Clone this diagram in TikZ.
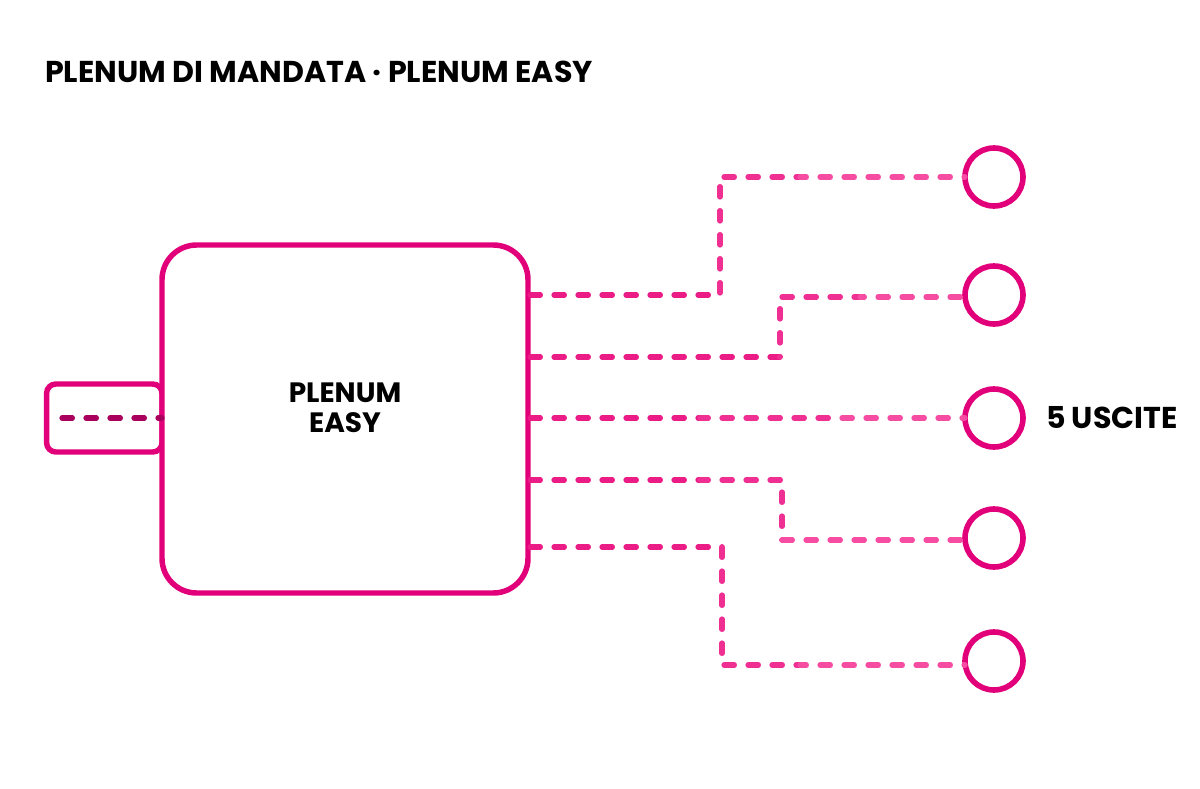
\documentclass[tikz,border=0pt]{standalone}
\usepackage{fontspec}
\setmainfont{Poppins}[BoldFont={Poppins Bold}]
\begin{document}
\begin{tikzpicture}[x=0.75pt,y=-0.75pt,
  every node/.style={inner sep=0pt,outer sep=0pt},
  frame/.style={draw=mag,line width=4.1pt,rounded corners=26pt},
  port/.style={draw=mag,line width=4.1pt,rounded corners=7pt},
  outlet/.style={draw=mag,line width=4.2pt,circle,minimum size=43.5pt},
  duct/.style={line width=3.9pt,line cap=round,dash pattern=on 7.8pt off 10.2pt},
  lbl/.style={font=\bfseries\fontsize{22.6}{26}\selectfont,text=black}]
\definecolor{mag}{HTML}{E2007A}
\definecolor{dkmag}{HTML}{A8005C}
\definecolor{dl}{HTML}{EC1C86}
\definecolor{dm}{HTML}{F02F93}
\definecolor{dr}{HTML}{F64DA3}
\useasboundingbox (0,0) rectangle (1200,789);
\node[lbl,anchor=base west] (title) at (45,82) {PLENUM DI MANDATA · PLENUM EASY};
% small port box
\node[port,minimum width=86.6pt,minimum height=51pt] (port) at (104.3,418) {};
% main box
\node[frame,fill=white,minimum width=274.5pt,minimum height=261pt] (box) at (345,419) {};
\node[lbl,align=center,font=\bfseries\fontsize{21}{22.5}\selectfont] (name) at (345,408) {PLENUM\\EASY};
\coordinate (pin) at (62,418);
\draw[duct,draw=dkmag] (pin) -- (port.east);
% outlets
\node[outlet] (c1) at (994,177) {};
\node[outlet] (c2) at (994,295) {};
\node[outlet] (c3) at (994,418) {};
\node[outlet] (c4) at (994,538) {};
\node[outlet] (c5) at (994,661) {};
\node[lbl,anchor=west] (count) at (1046,418) {5 USCITE};
% connector start points on the box
\coordinate (s1) at (530,295);
\coordinate (s2) at (530,357);
\coordinate (s3) at (530,418);
\coordinate (s4) at (530,480);
\coordinate (s5) at (530,547);
% ducts (colour shifts along each duct, dash phase kept continuous)
\draw[duct,draw=dl] (s1) -- (720,295);
\draw[duct,draw=dm,dash phase=142.5pt] (720,295) -- (720,177) -- (800,177);
\draw[duct,draw=dr,dash phase=291pt] (800,177) -- (c1.west);
\draw[duct,draw=dl] (s2) -- (780,357);
\draw[duct,draw=dm,dash phase=187.5pt] (780,357) -- (780,297) -- (860,297);
\draw[duct,draw=dr,dash phase=292.5pt] (860,297) -- (c2.west |- 0,297);
\draw[duct,draw=dl] (s3) -- (700,418);
\draw[duct,draw=dm,dash phase=127.5pt] (700,418) -- (830,418);
\draw[duct,draw=dr,dash phase=225pt] (830,418) -- (c3.west);
\draw[duct,draw=dl] (s4) -- (700,480);
\draw[duct,draw=dm,dash phase=127.5pt] (700,480) -- (782,480) -- (782,540);
\draw[duct,draw=dr,dash phase=234pt] (782,540) -- (c4.west |- 0,540);
\draw[duct,draw=dl] (s5) -- (722,547);
\draw[duct,draw=dm,dash phase=144pt] (722,547) -- (722,665) -- (800,665);
\draw[duct,draw=dr,dash phase=291pt] (800,665) -- (c5.west |- 0,665);
\end{tikzpicture}
\end{document}
